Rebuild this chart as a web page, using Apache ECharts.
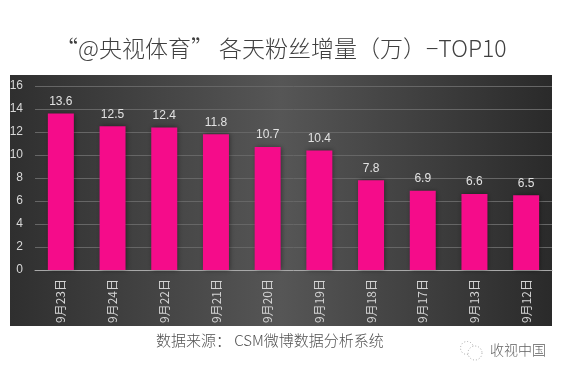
<!DOCTYPE html>
<html>
<head>
<meta charset="utf-8">
<style>
html, body { margin: 0; padding: 0; background: #fff; }
#main { width: 562px; height: 376px; }
</style>
<script src="https://cdn.jsdelivr.net/npm/echarts@6/dist/echarts.min.js"></script>
</head>
<body>
<div id="main"></div>
<script>
const categories = ['9月23日', '9月24日', '9月22日', '9月21日', '9月20日', '9月19日', '9月18日', '9月17日', '9月13日', '9月12日'];
const values = [13.6, 12.5, 12.4, 11.8, 10.7, 10.4, 7.8, 6.9, 6.6, 6.5];
const titleText = '“@央视体育” 各天粉丝增量（万）−TOP10';
const sourceText = '数据来源： CSM微博数据分析系统';
const markText = '收视中国';
const cjk = '"Noto Sans CJK SC", "Noto Sans", sans-serif';
const narrow = '"Liberation Sans Narrow", "Liberation Sans", sans-serif';

const chart = echarts.init(document.getElementById('main'), null, {renderer: 'canvas'});
chart.setOption({
    animation: false,
    backgroundColor: '#fff',
    grid: {left: 35, right: 10, top: 86, bottom: 106},
    xAxis: {
        type: 'category',
        data: categories,
        axisTick: {show: false},
        axisLine: {lineStyle: {color: '#a8a8a8', width: 1}},
        axisLabel: {rotate: 90, color: '#d4d4d4', fontSize: 12, fontFamily: cjk, margin: 9, interval: 0}
    },
    yAxis: {
        type: 'value',
        min: 0,
        max: 16,
        interval: 2,
        axisLine: {show: false},
        axisTick: {show: false},
        axisLabel: {color: '#d8d8d8', fontSize: 12, fontFamily: narrow, margin: 12},
        splitLine: {lineStyle: {color: '#666666', width: 1}}
    },
    series: [{
        type: 'bar',
        data: values,
        barWidth: 26,
        z: 3,
        itemStyle: {
            color: '#f50c8a',
            shadowColor: 'rgba(0,0,0,0.45)',
            shadowBlur: 5,
            shadowOffsetX: 1
        },
        label: {
            show: true,
            position: 'top',
            distance: 6,
            color: '#e2e2e2',
            fontSize: 12,
            fontFamily: narrow
        }
    }],
    graphic: [
        {
            type: 'rect',
            z: -10,
            silent: true,
            shape: {x: 10, y: 75, width: 542, height: 251},
            style: {
                fill: {
                    type: 'linear', x: 0, y: 0, x2: 1, y2: 0,
                    colorStops: [
                        {offset: 0, color: '#2f2f2f'},
                        {offset: 0.5, color: '#565656'},
                        {offset: 1, color: '#2a2a2a'}
                    ]
                }
            }
        },
        {
            type: 'text', left: 55, top: 37,
            style: {text: titleText, fill: '#404040', font: '300 23px ' + cjk}
        },
        {
            type: 'text', left: 156, top: 333,
            style: {text: sourceText, fill: '#505050', font: '300 15px ' + cjk}
        },
        {
            type: 'text', left: 490, top: 343,
            style: {text: markText, fill: '#606060', font: '300 14px ' + cjk}
        },
        {
            type: 'circle', z: 5, silent: true,
            shape: {cx: 467, cy: 348, r: 6.5},
            style: {fill: '#fff', stroke: '#a8a8a8', lineWidth: 1, lineDash: [1, 2]}
        },
        {
            type: 'circle', z: 6, silent: true,
            shape: {cx: 475, cy: 353, r: 7},
            style: {fill: '#fff', stroke: '#a8a8a8', lineWidth: 1, lineDash: [1, 2]}
        }
    ]
});
</script>
</body>
</html>
